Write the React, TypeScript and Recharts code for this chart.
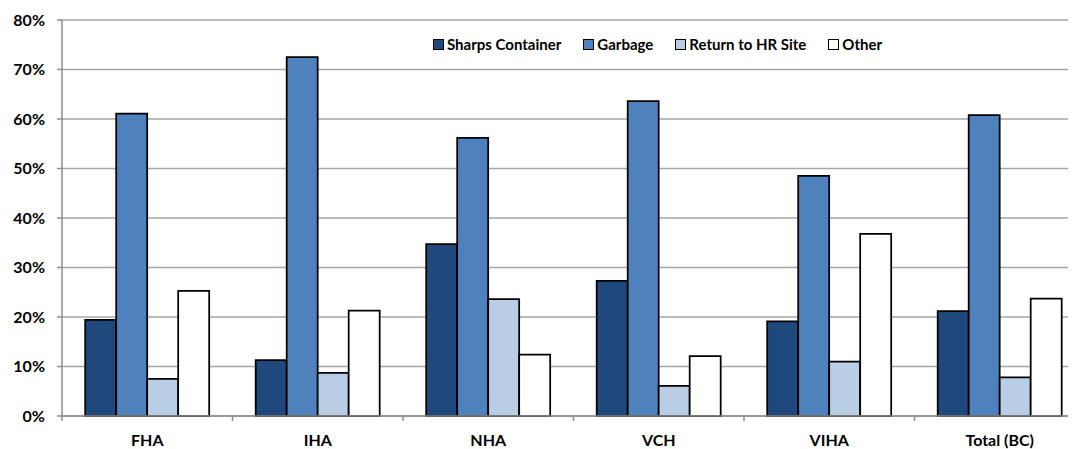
import { Bar, BarChart, CartesianGrid, Legend, XAxis, YAxis } from 'recharts';

const regions = ['FHA', 'IHA', 'NHA', 'VCH', 'VIHA', 'Total (BC)'];
const sharpsContainer = [19.4, 11.3, 34.7, 27.3, 19.1, 21.2];
const garbage = [61.1, 72.5, 56.2, 63.6, 48.5, 60.8];
const returnToHrSite = [7.5, 8.7, 23.6, 6.1, 11.0, 7.8];
const other = [25.3, 21.3, 12.4, 12.1, 36.8, 23.7];
const yTicks = [0, 10, 20, 30, 40, 50, 60, 70, 80];

const series = [
  { key: 'sharps', name: 'Sharps Container', color: '#1f497d' },
  { key: 'garbage', name: 'Garbage', color: '#4f81bd' },
  { key: 'hr', name: 'Return to HR Site', color: '#b9cde5' },
  { key: 'other', name: 'Other', color: '#ffffff' },
];

const data = regions.map((region, i) => ({
  region,
  sharps: sharpsContainer[i],
  garbage: garbage[i],
  hr: returnToHrSite[i],
  other: other[i],
}));

const FONT = 'Lato, "Open Sans", sans-serif';
const AXIS_GREY = '#8c8c8c';

// category labels centred, tick marks on the band boundaries like Excel
function CategoryTick(props: any) {
  const { x, y, payload } = props;
  const half = payload?.offset ?? 0;
  const axisY = y - 7;
  return (
    <g>
      <line x1={x - half} x2={x - half} y1={axisY} y2={axisY + 5} stroke={AXIS_GREY} strokeWidth={1.5} />
      <text
        x={x}
        y={y + 23}
        textAnchor="middle"
        fontFamily={FONT}
        fontWeight={700}
        fontSize={16}
        fill="#000"
      >
        {payload.value}
      </text>
    </g>
  );
}

function LegendRow() {
  return (
    <div style={{ display: 'flex', gap: 22, fontFamily: FONT, fontWeight: 700, fontSize: 15, lineHeight: '16px' }}>
      {series.map((s) => (
        <div key={s.key} style={{ display: 'flex', alignItems: 'center' }}>
          <span
            style={{
              display: 'inline-block',
              width: 9,
              height: 9,
              background: s.color,
              border: '1.5px solid #000',
              marginRight: 3,
            }}
          />
          <span>{s.name}</span>
        </div>
      ))}
    </div>
  );
}

export default function App() {
  return (
    <div style={{ width: 1068, height: 441, overflow: 'hidden' }}>
      <BarChart
        width={1077}
        height={441}
        data={data}
        margin={{ top: 12, right: 0, bottom: 0, left: 0 }}
        barCategoryGap="13.6%"
        barGap={0}
      >
        <CartesianGrid vertical={false} stroke="#a6a6a6" strokeWidth={1.5} />
        <XAxis
          dataKey="region"
          height={33}
          stroke={AXIS_GREY}
          strokeWidth={1.5}
          tickLine={false}
          tickSize={5}
          tickMargin={2}
          interval={0}
          tick={<CategoryTick />}
        />
        <YAxis
          width={54}
          domain={[0, 80]}
          ticks={yTicks}
          interval={0}
          stroke={AXIS_GREY}
          strokeWidth={1.5}
          tickSize={5}
          tickMargin={12}
          tickLine={{ stroke: AXIS_GREY, strokeWidth: 1.5 }}
          tickFormatter={(v) => `${v}%`}
          tick={{ fill: '#000', fontFamily: FONT, fontWeight: 700, fontSize: 16 }}
        />
        <Legend
          layout="horizontal"
          verticalAlign="middle"
          content={<LegendRow />}
          wrapperStyle={{ top: 28, left: 425, width: 'auto', height: 'auto' }}
        />
        {series.map((s) => (
          <Bar
            key={s.key}
            dataKey={s.key}
            name={s.name}
            fill={s.color}
            stroke="#000"
            strokeWidth={1.75}
            isAnimationActive={false}
          />
        ))}
      </BarChart>
    </div>
  );
}
